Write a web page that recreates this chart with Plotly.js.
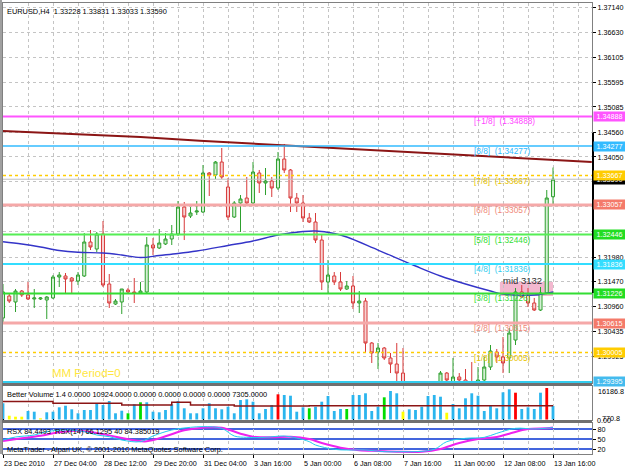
<!DOCTYPE html>
<html>
<head>
<meta charset="utf-8">
<script src="https://cdn.plot.ly/plotly-3.0.1.min.js"></script>
<style>html,body{margin:0;padding:0;background:#fff;}#chart{width:625px;height:469px;}</style>
</head>
<body>
<div id="chart"></div>
<script>
// ---------- DATA ----------
const opens = [1.30719,1.31174,1.31050,1.31277,1.31195,1.31112,1.31112,1.31091,1.31133,1.31567,
 1.31588,1.31546,1.31484,1.31588,1.32291,1.32146,1.32457,1.31422,1.31008,1.31050,
 1.31298,1.31257,1.31236,1.31257,1.32229,1.32167,1.32250,1.32353,1.32457,1.33015,
 1.32829,1.32912,1.32912,1.33719,1.33677,1.33946,1.33429,1.32808,1.33098,1.33201,
 1.33098,1.33719,1.33512,1.33553,1.33408,1.34008,1.33781,1.33201,1.33098,1.32788,
 1.32705,1.32332,1.31464,1.31588,1.31464,1.31319,1.31381,1.31029,1.31070,1.30201,
 1.30015,1.30098,1.29891,1.29767,1.29580,1.29229,1.29064,1.29126,1.29022,1.29188,
 1.29312,1.29580,1.29395,1.29498,1.29436,1.29374,1.29312,1.29436,1.29705,1.30015,
 1.29912,1.29891,1.30263,1.31257,1.31195,1.31029,1.30884,1.31236,1.33228];
const highs = [1.31422,1.31236,1.31319,1.31298,1.31464,1.31319,1.31153,1.31174,1.31608,1.31670,
 1.31650,1.31567,1.31670,1.32477,1.32539,1.32498,1.32725,1.31629,1.31112,1.31319,
 1.31339,1.31546,1.31464,1.32394,1.32374,1.32560,1.32477,1.32643,1.33139,1.33119,
 1.33015,1.33139,1.33884,1.33739,1.33967,1.34236,1.33615,1.33139,1.33263,1.33636,
 1.33946,1.33781,1.33822,1.33636,1.34153,1.34319,1.33801,1.33305,1.33263,1.32891,
 1.32891,1.32436,1.31919,1.31670,1.31670,1.31484,1.31588,1.31277,1.31133,1.30222,
 1.30201,1.30119,1.29995,1.30201,1.30098,1.29333,1.29271,1.29229,1.29271,1.29353,
 1.29622,1.29601,1.29891,1.29580,1.29663,1.29808,1.29705,1.29912,1.30160,1.30077,
 1.30326,1.30512,1.31339,1.31401,1.31339,1.31133,1.31360,1.33367,1.33831];
const lows = [1.30636,1.31029,1.30843,1.31153,1.31091,1.30926,1.31091,1.30698,1.31112,1.31360,
 1.31236,1.31236,1.31401,1.31567,1.32126,1.32084,1.31360,1.30926,1.30988,1.30801,
 1.31236,1.31029,1.31215,1.31236,1.32022,1.32146,1.32229,1.32229,1.32415,1.32332,
 1.32788,1.32850,1.32891,1.33243,1.33595,1.33595,1.32746,1.32788,1.32498,1.33057,
 1.33057,1.33305,1.33263,1.33222,1.33367,1.33719,1.32912,1.32912,1.32705,1.32684,
 1.32270,1.31298,1.31236,1.31401,1.31277,1.31298,1.30905,1.30822,1.29995,1.29788,
 1.29663,1.29850,1.29580,1.29333,1.29126,1.28981,1.28919,1.28898,1.28940,1.29105,
 1.29271,1.29353,1.29312,1.29353,1.29291,1.29188,1.29271,1.29353,1.29643,1.29788,
 1.29580,1.29580,1.30160,1.31133,1.30946,1.30864,1.30864,1.31215,1.33033];
const closes = [1.31257,1.31070,1.31277,1.31195,1.31112,1.31133,1.31133,1.31153,1.31567,1.31608,
 1.31526,1.31484,1.31608,1.32291,1.32188,1.32457,1.31401,1.31029,1.31070,1.31319,
 1.31257,1.31236,1.31277,1.32229,1.32167,1.32270,1.32353,1.32457,1.33015,1.32808,
 1.32891,1.32932,1.33719,1.33677,1.33946,1.33636,1.32808,1.33098,1.33181,1.33098,
 1.33739,1.33512,1.33553,1.33408,1.34008,1.33781,1.33201,1.33098,1.32788,1.32705,
 1.32332,1.31464,1.31608,1.31464,1.31319,1.31381,1.31029,1.31070,1.30201,1.29995,
 1.30098,1.29891,1.29767,1.29580,1.29229,1.29064,1.29126,1.29022,1.29188,1.29312,
 1.29580,1.29436,1.29498,1.29436,1.29374,1.29229,1.29436,1.29705,1.30036,1.29912,
 1.29788,1.30408,1.31257,1.31153,1.31029,1.30884,1.31236,1.33201,1.33590];

const maBars = [0,3,6,9,12,16,19,22,25,28,31,36,40,44,48,50,53,55,60,66,70,74,78,80,85,88];
const maValues = [1.32297,1.32250,1.32188,1.32115,1.32078,1.32063,1.32022,1.31970,1.32012,1.32053,1.32105,1.32219,1.32312,1.32436,1.32508,1.32519,1.32467,1.32395,1.32125,1.31795,1.31588,1.31422,1.31277,1.31215,1.31195,1.31257];

const trendBars = [0,22,31.5,44.3,65,89,94.2];
const trendValues = [1.34588,1.34463,1.34387,1.34298,1.34153,1.33988,1.33946];

const mmNames = ['[+1/8]','[8/8]','[7/8]','[6/8]','[5/8]','[4/8]','[3/8]','[2/8]','[1/8]','[0/8]'];
const mmLevels = [1.34888,1.34277,1.33667,1.33057,1.32446,1.31836,1.31226,1.30615,1.30005,1.29395];
const bidPrice = 1.33590;

const priceTicks = [1.37140,1.36630,1.36105,1.35595,1.35085,1.34560,1.34050,1.33540,1.33030,1.32510,1.31980,1.31470,1.30960,1.30435,1.29925];
const hiddenPriceTicks = [1.33540,1.33030,1.32510];

const volumes = [8330,1950,1440,1440,4370,4010,620,3700,4010,6270,
 7090,5240,3190,4880,4880,8330,7450,9510,3190,4520,
 3190,7810,8840,8840,4010,3700,4880,7810,9510,5760,
 3190,3190,5760,8330,5760,5240,6580,3190,10020,10380,
 9150,3190,5400,7450,12950,12590,12230,4010,6270,5760,
 6580,9150,12080,4370,5400,5400,12590,12590,13470,4370,
 6580,11410,14650,13470,4010,5240,4880,6580,12080,12590,
 11720,3495,7970,5760,10900,13470,12230,4370,6940,5760,
 13980,15520,13775,5400,6270,5400,13775,16186.8,6940];
const volTypes = ['b','y','y','y','b','b','y','b','b','b',
 'b','b','b','b','b','b','b','b','b','b',
 'g','b','g','b','b','b','b','b','b','b',
 'b','b','b','b','b','b','b','b','b','b',
 'b','b','b','b','r','b','b','b','b','g',
 'b','b','b','b','b','g','b','b','b','b',
 'b','g','b','b','y','b','b','b','b','b',
 'b','y','b','b','b','b','b','b','b','b',
 'b','b','r','b','b','b','b','r','b'];
const volAvgBars = [0,8,19,27,30,37,49,88];
const volAvgValues = [9300,8330,7450,8840,7450,6940,7090,7090];

const rsxBars = [0,2,5,7,10,13,15,17,19,22,24,27,30,32,35,37,39,42,45,47,49,50,53,55,58,61,64,66,69,71,74,77,79,82,85,88];
const rsxValues = [47,56,62,72,77,72,62,57,47,42,59,77,85,87,82,59,55,55,59,53,42,32,19,17,17,12,12,12,19,42,52,55,67,82,80,84.4];
const rsxSigBars = [0,3,6,9,12,15,18,21,23,26,29,32,35,38,40,43,46,49,51,54,57,60,63,67,70,73,76,79,81,84,87,88];
const rsxSigValues = [44,52,60,70,75,68,57,46,43,58,76,84,84,66,57,55,57,50,38,24,16,14,12,12,20,38,50,56,66,80,82,84.4];
const rsxLevels = [80,50,20];

const timeLabelBars = [0,8,16,24,32,40,48,56,64,72,80,88];
const timeLabels = ['23 Dec 2010','27 Dec 04:00','28 Dec 12:00','29 Dec 20:00','31 Dec 04:00','3 Jan 16:00','5 Jan 00:00','6 Jan 08:00','7 Jan 16:00','11 Jan 00:00','12 Jan 08:00','13 Jan 16:00'];

// ---------- STYLES ----------
const FONT = 'Liberation Sans, Arial, sans-serif';
const mmLineColors = ['#ff55ff','#33bbff','#ffcc00','#f5a8a8','#55ee55','#33ddff','#33dd33','#f5a8a8','#ffcc00','#33ccee'];
const mmTextColors = ['#ff44ff','#33bbff','#e8c400','#f08878','#33dd33','#33ccee','#33dd33','#f08878','#e8c400','#33ccee'];
const mmBoxColors  = ['#ff55ff','#33bbff','#ffcc00','#f47a6a','#22dd22','#33ddff','#22dd22','#f47a6a','#ffcc00','#44bbee'];
const mmWidths = [2,1.5,1.5,3,2,2,2,3,1.5,2];
const mmDash = ['solid','solid','dot','solid','solid','solid','solid','solid','dot','solid'];
const volColorMap = {b:'#2bb5ee', y:'#ffff00', g:'#00dd00', r:'#ff0000'};

const idx = opens.map((_, i) => i);

const traces = [
  {type:'scatter', mode:'lines', x:trendBars, y:trendValues, xaxis:'x', yaxis:'y',
   line:{color:'#8b1515', width:2}, hoverinfo:'skip'},
  {type:'scatter', mode:'lines', x:maBars, y:maValues, xaxis:'x', yaxis:'y',
   line:{color:'#3434c8', width:1.4, shape:'spline'}, hoverinfo:'skip'},
  {type:'candlestick', x:idx, open:opens, high:highs, low:lows, close:closes, xaxis:'x', yaxis:'y',
   increasing:{line:{color:'#2ea02e', width:1}, fillcolor:'#d4efd4'},
   decreasing:{line:{color:'#d83a3a', width:1}, fillcolor:'#f7d2d2'},
   hoverinfo:'skip'},
  {type:'bar', x:idx, y:volumes, xaxis:'x', yaxis:'y2', width:0.45,
   marker:{color:volTypes.map(t => volColorMap[t]), line:{width:0}}, hoverinfo:'skip'},
  {type:'scatter', mode:'lines', x:volAvgBars, y:volAvgValues, xaxis:'x', yaxis:'y2',
   line:{color:'#8b1515', width:1.5, shape:'hv'}, hoverinfo:'skip'},
  {type:'scatter', mode:'lines', x:rsxSigBars, y:rsxSigValues, xaxis:'x', yaxis:'y3',
   line:{color:'#ee22ee', width:2, shape:'spline'}, hoverinfo:'skip'},
  {type:'scatter', mode:'lines', x:rsxBars, y:rsxValues, xaxis:'x', yaxis:'y3',
   line:{color:'#22ccee', width:1, shape:'spline'}, hoverinfo:'skip'}
];

// pane geometry (plot area: y 3..454 px)
const H = 451;
const f = px => (454 - px) / H;

const shapes = [];
shapes.push({type:'rect', xref:'x', yref:'y', x0:79.5, x1:88, y0:1.31174, y1:1.31464,
  fillcolor:'#f3b8cf', line:{width:0}, layer:'below'});
mmLevels.forEach((lv, i) => shapes.push({type:'line', xref:'paper', x0:0, x1:1, yref:'y', y0:lv, y1:lv,
  line:{color:mmLineColors[i], width:mmWidths[i], dash:mmDash[i]}, layer:'above'}));
shapes.push({type:'line', xref:'paper', x0:0, x1:1, yref:'y', y0:bidPrice, y1:bidPrice,
  line:{color:'#c0c0c0', width:1}, layer:'above'});
rsxLevels.forEach(lv => shapes.push({type:'line', xref:'paper', x0:0, x1:1, yref:'y3', y0:lv, y1:lv,
  line:{color:'#4466dd', width:2}, layer:'below'}));
[[383,386],[420,423]].forEach(([a,b]) => shapes.push({type:'rect', xref:'paper', x0:-0.006, x1:1, yref:'paper', y0:f(b), y1:f(a),
  fillcolor:'#707070', line:{width:0}, layer:'above'}));
shapes.push({type:'rect', xref:'paper', x0:-0.0051, x1:-0.0017, yref:'paper', y0:0, y1:1.0067,
  fillcolor:'#a0a0a0', line:{width:0}});
shapes.push({type:'line', xref:'paper', x0:1.0017, x1:1.0017, yref:'y', y0:1.34546, y1:1.31236,
  line:{color:'#000', width:2}});

const annotations = [];
annotations.push({xref:'paper', yref:'paper', x:0, y:1, xanchor:'left', yanchor:'top', xshift:2, yshift:-2,
  text:'EURUSD,H4\u00a0\u00a01.33228 1.33831 1.33033 1.33590', showarrow:false,
  font:{family:FONT, size:7.4, color:'#000'}});
mmLevels.slice(0,9).forEach((lv, i) => annotations.push({xref:'x', yref:'y', x:75, y:lv, xanchor:'left', yanchor:'middle', yshift:-5,
  text:mmNames[i] + '\u00a0\u00a0(' + lv.toFixed(5) + ')', showarrow:false,
  font:{family:FONT, size:8.3, color:mmTextColors[i]}}));
annotations.push({xref:'x', yref:'y', x:79.7, y:1.31484, xanchor:'left', yanchor:'middle', yshift:1,
  text:'mid 3132', showarrow:false, font:{family:FONT, size:9.5, color:'#333'}});
annotations.push({xref:'x', yref:'y', x:7.5, y:1.29580, xanchor:'left', yanchor:'middle',
  text:'MM Period=0', showarrow:false, font:{family:FONT, size:11.5, color:'#ffe640'}});
annotations.push({xref:'paper', yref:'y', x:1, y:bidPrice, xanchor:'left', yanchor:'middle', xshift:1,
  text:bidPrice.toFixed(5), showarrow:false, bgcolor:'#000', width:31, height:9, borderpad:0,
  font:{family:FONT, size:7.2, color:'#fff'}});
mmLevels.forEach((lv, i) => annotations.push({xref:'paper', yref:'y', x:1, y:lv, xanchor:'left', yanchor:'middle', xshift:1,
  text:lv.toFixed(5), showarrow:false, bgcolor:mmBoxColors[i], width:31, height:9, borderpad:0,
  font:{family:FONT, size:7.2, color:'#fff'}}));
annotations.push({xref:'paper', yref:'paper', x:0, y:f(388), xanchor:'left', yanchor:'top', xshift:2,
  text:'Better Volume 1.4 0.0000 10924.0000 0.0000 0.0000 0.0000 0.0000 7305.0000', showarrow:false,
  font:{family:FONT, size:7.4, color:'#000'}});
annotations.push({xref:'paper', yref:'paper', x:1, y:f(391), xanchor:'left', yanchor:'middle', xshift:4,
  text:'16186.8', showarrow:false, font:{family:FONT, size:7.2, color:'#000'}});
annotations.push({xref:'paper', yref:'paper', x:1, y:f(418), xanchor:'left', yanchor:'middle', xshift:8,
  text:'770.8', showarrow:false, font:{family:FONT, size:7.2, color:'#000'}});
annotations.push({xref:'paper', yref:'paper', x:1, y:f(420), xanchor:'left', yanchor:'middle', xshift:3,
  text:'0.00', showarrow:false, font:{family:FONT, size:7.2, color:'#000'}});
annotations.push({xref:'paper', yref:'paper', x:0, y:f(425), xanchor:'left', yanchor:'top', xshift:2,
  text:'RSX 84.4493\u00a0\u00a0RSX(14) 66.1295 40 84.385019', showarrow:false,
  font:{family:FONT, size:7.4, color:'#000'}});
annotations.push({xref:'paper', yref:'paper', x:0, y:f(449), xanchor:'left', yanchor:'middle', xshift:2,
  text:'MetaTrader - Alpari UK, \u00a9 2001-2010 MetaQuotes Software Corp.', showarrow:false,
  font:{family:FONT, size:7.4, color:'#000'}});
timeLabelBars.forEach((b, i) => annotations.push({xref:'x', yref:'paper', x:b, y:0, xanchor:'left', yanchor:'top', yshift:-3, xshift:-1,
  text:timeLabels[i], showarrow:false, font:{family:FONT, size:7.2, color:'#000'}}));

const gridC = '#c4c4c4';
const layout = {
  width:625, height:469, margin:{l:3, r:33, t:3, b:15}, paper_bgcolor:'#fff', plot_bgcolor:'#fff',
  showlegend:false, dragmode:false, barmode:'overlay',
  xaxis:{range:[0, 94.24], anchor:'y3', tickmode:'linear', tick0:0, dtick:8, ticks:'outside', ticklen:3, tickcolor:'#000',
    showticklabels:false, showgrid:true, gridcolor:gridC, griddash:'3px,3px', gridwidth:1,
    minor:{tickmode:'linear', tick0:0, dtick:4, showgrid:true, gridcolor:gridC, griddash:'3px,3px', ticks:''},
    showline:true, mirror:'all', linecolor:'#808080', zeroline:false, rangeslider:{visible:false}, fixedrange:true},
  yaxis:{domain:[f(383), 1], range:[1.29374, 1.37236], side:'right', tickmode:'array', tickvals:priceTicks,
    ticktext:priceTicks.map(v => hiddenPriceTicks.includes(v) ? '' : v.toFixed(5)), ticks:'outside', ticklen:3, tickcolor:'#000',
    tickfont:{family:FONT, size:7.2, color:'#000'}, showgrid:true, gridcolor:gridC, griddash:'3px,3px',
    showline:true, mirror:true, linecolor:'#808080', zeroline:false, fixedrange:true},
  yaxis2:{domain:[f(420), f(386)], range:[-257, 17219], showticklabels:false, showgrid:false,
    showline:true, mirror:true, linecolor:'#808080', zeroline:false, fixedrange:true, ticks:''},
  yaxis3:{domain:[0, f(423)], range:[5, 98], side:'right', tickmode:'array', tickvals:rsxLevels,
    ticks:'outside', ticklen:3, tickcolor:'#000', tickfont:{family:FONT, size:7.2, color:'#000'},
    showgrid:false, showline:true, mirror:true, linecolor:'#808080', zeroline:false, fixedrange:true},
  shapes:shapes, annotations:annotations
};

Plotly.newPlot('chart', traces, layout, {staticPlot:true, displayModeBar:false});
</script>
</body>
</html>
